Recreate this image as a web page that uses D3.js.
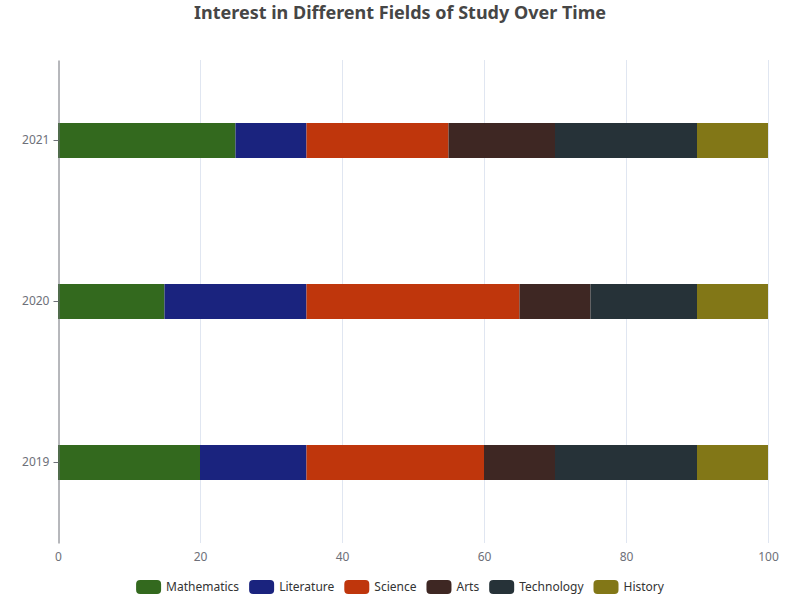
<!DOCTYPE html>
<html>
<head>
<meta charset="UTF-8">
<title>Interest in Different Fields of Study Over Time</title>
<script src="https://cdn.jsdelivr.net/npm/d3@7"></script>
<style>
  body { margin: 0; background: #fff; }
  svg { display: block; font-family: "Noto Sans", "Open Sans", sans-serif; }
</style>
</head>
<body>
<svg id="chart" width="800" height="600"></svg>
<script>
// Data
var years = ['2019', '2020', '2021'];
var fields = ['Mathematics', 'Literature', 'Science', 'Arts', 'Technology', 'History'];
var colors = ['#33691e', '#1a237e', '#bf360c', '#3e2723', '#263238', '#827717'];
var mathematicsData = [20, 15, 25];
var literatureData = [15, 20, 10];
var scienceData = [25, 30, 20];
var artsData = [10, 10, 15];
var technologyData = [20, 15, 20];
var historyData = [10, 10, 10];
var xTicks = [0, 20, 40, 60, 80, 100];

var seriesValues = [mathematicsData, literatureData, scienceData, artsData, technologyData, historyData];

// Layout
var margin = { top: 60, right: 32, bottom: 57, left: 58 },
  width = 800 - margin.left - margin.right,
  height = 600 - margin.top - margin.bottom;

var svg = d3.select('#chart');

// Title
svg.append('text')
  .attr('x', 400)
  .attr('y', 19)
  .attr('text-anchor', 'middle')
  .style('font-size', '18px')
  .style('font-weight', 'bold')
  .style('fill', '#464646')
  .text('Interest in Different Fields of Study Over Time');

var g = svg.append('g')
  .attr('transform', 'translate(' + margin.left + ',' + margin.top + ')');

// Scales
var x = d3.scaleLinear().domain([0, 100]).range([0, width]);
var y = d3.scaleBand().domain(years.slice().reverse()).range([0, height]);

// Grid lines
g.selectAll('.grid')
  .data(xTicks.slice(1))
  .enter().append('line')
  .attr('class', 'grid')
  .attr('x1', function(d) { return x(d) + 0.5; })
  .attr('x2', function(d) { return x(d) + 0.5; })
  .attr('y1', 0)
  .attr('y2', height)
  .style('stroke', '#e0e6f1')
  .style('stroke-width', 1);

// Stack the series
var table = years.map(function(yr, i) {
  var row = { year: yr };
  fields.forEach(function(f, k) { row[f] = seriesValues[k][i]; });
  return row;
});
var stacked = d3.stack().keys(fields)(table);

var barH = 35;
g.selectAll('.series')
  .data(stacked)
  .enter().append('g')
  .attr('class', 'series')
  .style('fill', function(d, i) { return colors[i]; })
  .selectAll('rect')
  .data(function(d) { return d; })
  .enter().append('rect')
  .attr('x', function(d) { return x(d[0]); })
  .attr('width', function(d) { return x(d[1]) - x(d[0]); })
  .attr('y', function(d) { return y(d.data.year) + y.bandwidth() / 2 - barH / 2; })
  .attr('height', barH);

// X axis
var xAxis = g.append('g')
  .attr('transform', 'translate(0,' + height + ')')
  .call(d3.axisBottom(x).tickValues(xTicks).tickSize(0).tickPadding(9));
xAxis.select('.domain').remove();
xAxis.selectAll('text')
  .style('font-size', '12px')
  .style('fill', '#6e7079')
  .style('font-family', '"Noto Sans", sans-serif');

// Y axis
var yAxis = g.append('g')
  .attr('transform', 'translate(0.5,0)')
  .call(d3.axisLeft(y).tickSize(5).tickSizeOuter(0).tickPadding(4));
yAxis.select('.domain').style('stroke', '#6e7079');
yAxis.selectAll('.tick line').style('stroke', '#6e7079');
yAxis.selectAll('text')
  .style('font-size', '12px')
  .style('fill', '#6e7079')
  .style('font-family', '"Noto Sans", sans-serif');

// Legend
var legend = svg.append('g');
var items = legend.selectAll('.item')
  .data(fields)
  .enter().append('g')
  .attr('class', 'item');
items.append('rect')
  .attr('width', 25)
  .attr('height', 14)
  .attr('rx', 4)
  .attr('ry', 4)
  .style('fill', function(d, i) { return colors[i]; });
items.append('text')
  .attr('x', 30)
  .attr('y', 7)
  .attr('dy', '0.35em')
  .style('font-size', '12px')
  .style('fill', '#333')
  .text(function(d) { return d; });

var offsets = [], pos = 0;
items.each(function() {
  var w = 30 + this.querySelector('text').getComputedTextLength();
  offsets.push(pos);
  pos += w + 10;
});
var total = pos - 10;
var startX = (800 - total) / 2;
items.attr('transform', function(d, i) {
  return 'translate(' + (startX + offsets[i]) + ',580)';
});
</script>
</body>
</html>
